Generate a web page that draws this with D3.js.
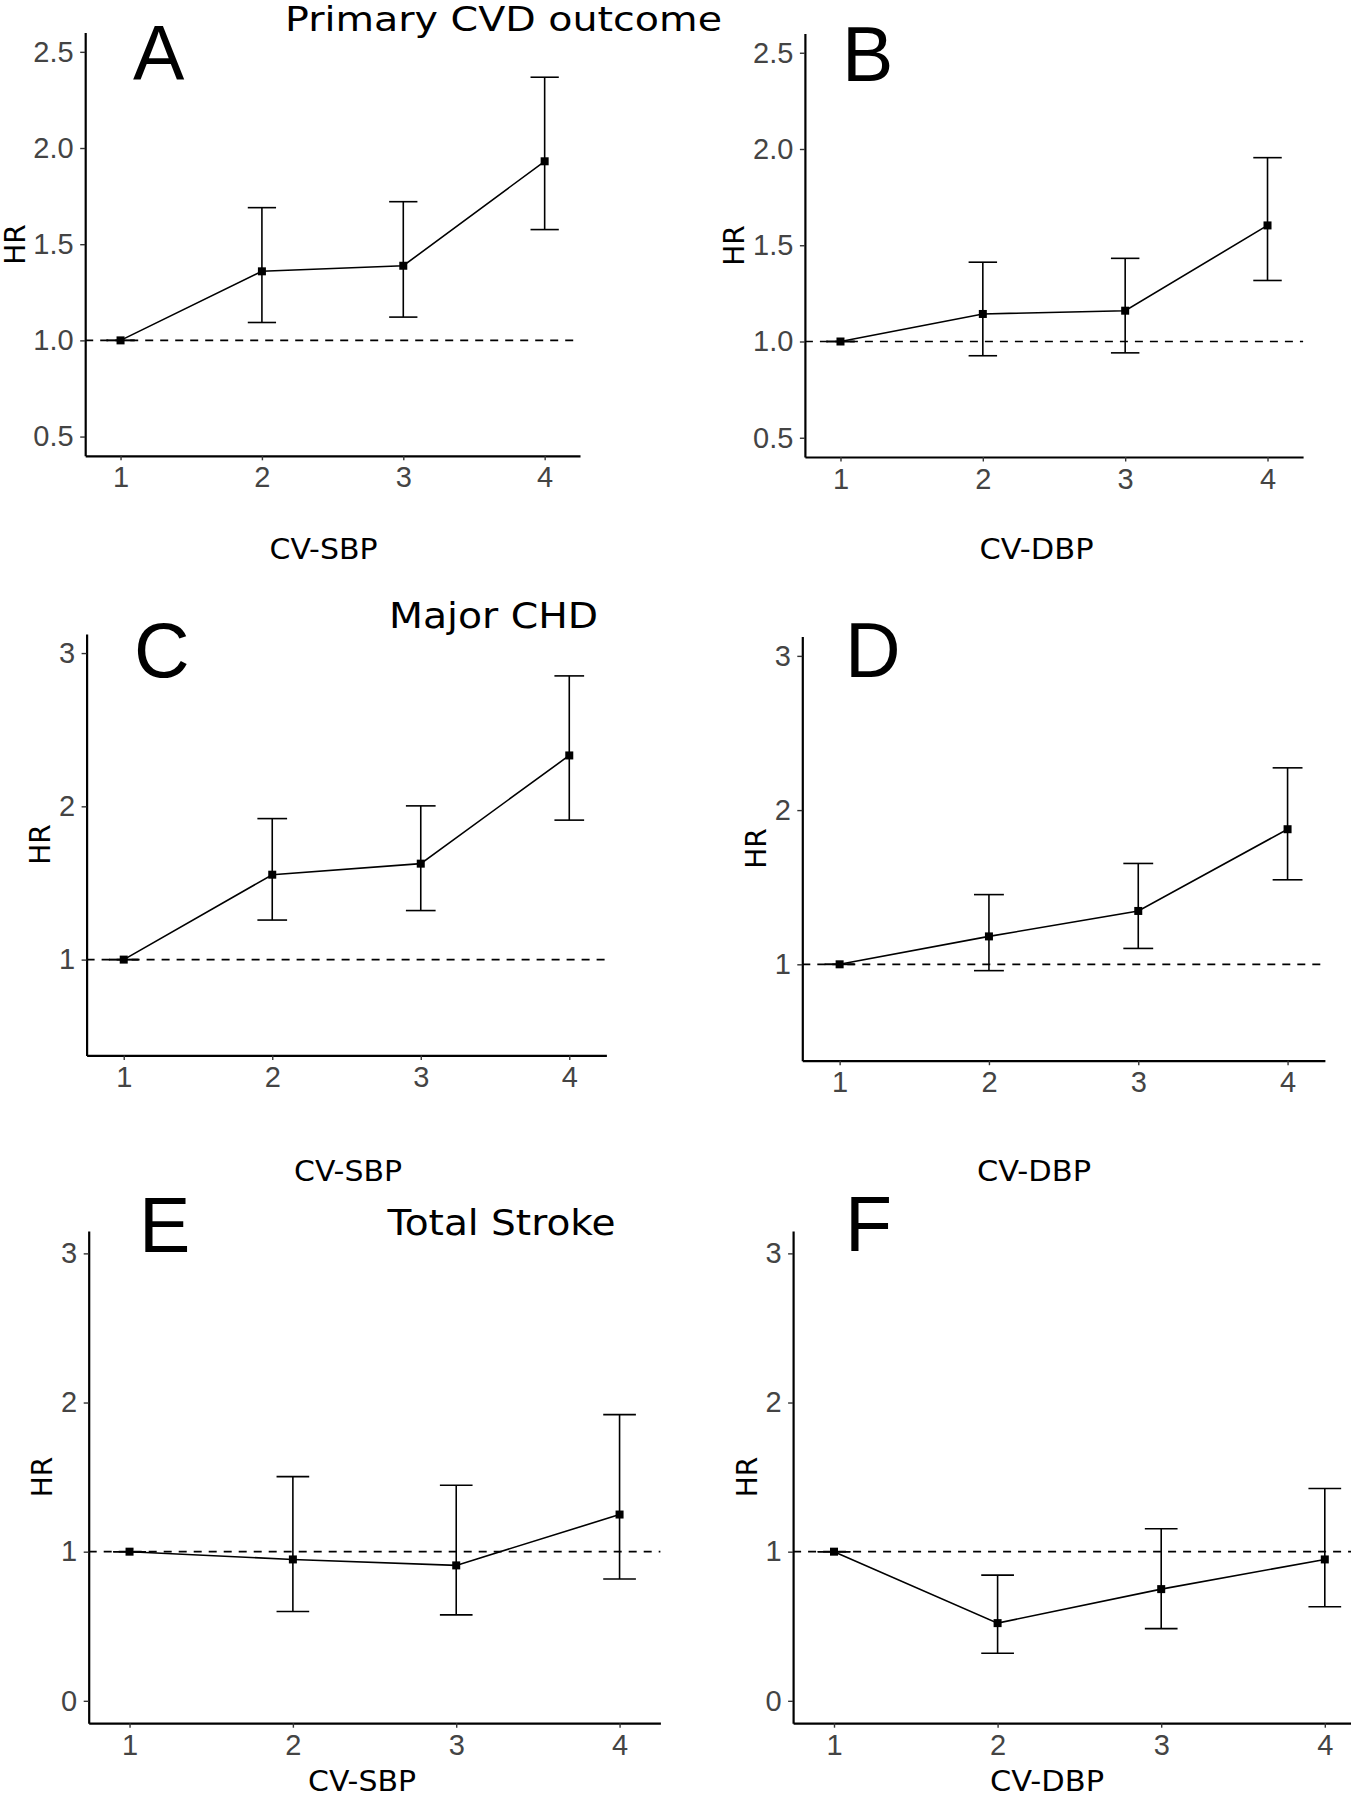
<!DOCTYPE html>
<html>
<head>
<meta charset="utf-8">
<script src="https://cdn.jsdelivr.net/npm/d3@7"></script>
<style>
  html, body { margin: 0; padding: 0; background: #fff; }
  svg { display: block; }
</style>
</head>
<body>
<svg id="chart" width="1351" height="1800"></svg>
<script>
// ---------------- DATA ----------------
const categories = [1, 2, 3, 4];

// Panel A: Primary CVD outcome vs CV-SBP quartile
const hrA = [1.00, 1.359, 1.388, 1.931];
const loA = [1.00, 1.093, 1.121, 1.576];
const hiA = [1.00, 1.690, 1.721, 2.368];
// Panel B: Primary CVD outcome vs CV-DBP quartile
const hrB = [1.00, 1.143, 1.160, 1.603];
const loB = [1.00, 0.926, 0.941, 1.317];
const hiB = [1.00, 1.412, 1.432, 1.955];
// Panel C: Major CHD vs CV-SBP
const hrC = [1.00, 1.554, 1.626, 2.332];
const loC = [1.00, 1.258, 1.320, 1.910];
const hiC = [1.00, 1.920, 2.003, 2.851];
// Panel D: Major CHD vs CV-DBP
const hrD = [1.00, 1.181, 1.346, 1.876];
const loD = [1.00, 0.959, 1.103, 1.548];
const hiD = [1.00, 1.452, 1.654, 2.274];
// Panel E: Total stroke vs CV-SBP
const hrE = [1.00, 0.948, 0.908, 1.249];
const loE = [1.00, 0.599, 0.576, 0.817];
const hiE = [1.00, 1.503, 1.445, 1.919];
// Panel F: Total stroke vs CV-DBP
const hrF = [1.00, 0.521, 0.749, 0.948];
const loF = [1.00, 0.319, 0.484, 0.631];
const hiF = [1.00, 0.843, 1.154, 1.424];

// y tick labels / limits
const ticksAB = [0.5, 1.0, 1.5, 2.0, 2.5];
const ticksCD = [1, 2, 3];
const ticksEF = [0, 1, 2, 3];
const limAB = [0.5, 2.5];
const limCD = [0.5, 3];
const limEF = [0, 3];

const panelLetters = ["A", "B", "C", "D", "E", "F"];
const titles = ["Primary CVD outcome", "Major CHD", "Total Stroke"];
const xLabels = ["CV-SBP", "CV-DBP", "CV-SBP", "CV-DBP", "CV-SBP", "CV-DBP"];
const yLabel = "HR";
const refLine = 1;

// ---------------- LAYOUT (pixels) ----------------
const layout = [
  {x0: 85.2,  x1: 580.0,  yt: 32.6,   yb: 455.8,  hr: hrA, lo: loA, hi: hiA, ticks: ticksAB, lim: limAB, fmt: ".1f",
   letter: {x: 133, y: 80}, ylab: {x: 24.5, y: 244.6}, xlab: {x: 269.5, y: 559, w: 108}},
  {x0: 804.9, x1: 1303.1, yt: 33.5,   yb: 457.0,  hr: hrB, lo: loB, hi: hiB, ticks: ticksAB, lim: limAB, fmt: ".1f",
   letter: {x: 842, y: 81}, ylab: {x: 744, y: 245.5}, xlab: {x: 979.5, y: 559, w: 114}},
  {x0: 86.6,  x1: 606.4,  yt: 633.9,  yb: 1055.4, hr: hrC, lo: loC, hi: hiC, ticks: ticksCD, lim: limCD, fmt: "d",
   letter: {x: 134, y: 677}, ylab: {x: 50, y: 844.6}, xlab: {x: 294, y: 1181, w: 108}},
  {x0: 802.3, x1: 1324.9, yt: 636.6,  yb: 1060.7, hr: hrD, lo: loD, hi: hiD, ticks: ticksCD, lim: limCD, fmt: "d",
   letter: {x: 845, y: 677}, ylab: {x: 765.5, y: 848.6}, xlab: {x: 977, y: 1181, w: 114}},
  {x0: 88.7,  x1: 660.4,  yt: 1231.0, yb: 1723.2, hr: hrE, lo: loE, hi: hiE, ticks: ticksEF, lim: limEF, fmt: "d",
   letter: {x: 139, y: 1252}, ylab: {x: 52, y: 1477}, xlab: {x: 308, y: 1791, w: 108}},
  {x0: 793.1, x1: 1365.7, yt: 1231.0, yb: 1723.2, hr: hrF, lo: loF, hi: hiF, ticks: ticksEF, lim: limEF, fmt: "d",
   letter: {x: 845, y: 1251}, ylab: {x: 757, y: 1477}, xlab: {x: 990, y: 1791, w: 114}}
];
const titleLayout = [
  {x: 285, y: 31, w: 437},
  {x: 389, y: 628, w: 209},
  {x: 387.5, y: 1235, w: 228}
];

const svg = d3.select("#chart");
svg.append("rect").attr("width", 1351).attr("height", 1800).attr("fill", "#fff");

const sansText = "'DejaVu Sans', Verdana, sans-serif";
const arial = "'Liberation Sans', Arial, sans-serif";
const capHalf = 0.1; // errorbar half width in x units

layout.forEach((p, i) => {
  const x = d3.scaleLinear().domain([0.75, 4.25]).range([p.x0, p.x1]);
  const span = p.lim[1] - p.lim[0];
  const y = d3.scaleLinear().domain([p.lim[0] - 0.05 * span, p.lim[1] + 0.05 * span]).range([p.yb, p.yt]);
  const g = svg.append("g");

  // reference dashed line
  g.append("line")
    .attr("x1", x.range()[0]).attr("x2", x.range()[1])
    .attr("y1", y(refLine)).attr("y2", y(refLine))
    .attr("stroke", "#000").attr("stroke-width", 1.7)
    .attr("stroke-dasharray", "8,7");

  const pts = categories.map((c, k) => ({c, hr: p.hr[k], lo: p.lo[k], hi: p.hi[k]}));

  // connecting line
  g.append("path")
    .datum(pts)
    .attr("fill", "none").attr("stroke", "#000").attr("stroke-width", 1.6)
    .attr("d", d3.line().x(d => x(d.c)).y(d => y(d.hr)));

  // error bars
  const eb = g.selectAll("g.eb").data(pts).join("g").attr("class", "eb")
    .attr("stroke", "#000").attr("stroke-width", 1.6);
  eb.append("line").attr("x1", d => x(d.c)).attr("x2", d => x(d.c))
    .attr("y1", d => y(d.lo)).attr("y2", d => y(d.hi));
  eb.append("line").attr("x1", d => x(d.c - capHalf)).attr("x2", d => x(d.c + capHalf))
    .attr("y1", d => y(d.lo)).attr("y2", d => y(d.lo));
  eb.append("line").attr("x1", d => x(d.c - capHalf)).attr("x2", d => x(d.c + capHalf))
    .attr("y1", d => y(d.hi)).attr("y2", d => y(d.hi));

  // square points
  const s = 8;
  g.selectAll("rect.pt").data(pts).join("rect").attr("class", "pt")
    .attr("x", d => x(d.c) - s / 2).attr("y", d => y(d.hr) - s / 2)
    .attr("width", s).attr("height", s).attr("fill", "#000");

  // axes
  const yAxis = d3.axisLeft(y).tickValues(p.ticks).tickFormat(d3.format(p.fmt))
    .tickSize(5).tickPadding(6.5).tickSizeOuter(0);
  const xAxis = d3.axisBottom(x).tickValues(categories).tickFormat(d3.format("d"))
    .tickSize(4.5).tickPadding(6.5).tickSizeOuter(0);

  const ya = g.append("g").attr("transform", `translate(${p.x0},0)`).call(yAxis);
  const xa = g.append("g").attr("transform", `translate(0,${p.yb})`).call(xAxis);
  [ya, xa].forEach(a => {
    a.select(".domain").attr("stroke", "#000").attr("stroke-width", 2.2);
    a.selectAll(".tick line").attr("stroke", "#333").attr("stroke-width", 1.4);
    a.selectAll(".tick text").attr("fill", "#444").style("font-family", arial).style("font-size", "29px");
  });

  // axis labels
  g.append("text")
    .attr("transform", `translate(${p.ylab.x},${p.ylab.y}) rotate(-90)`)
    .attr("text-anchor", "middle")
    .style("font-family", sansText).style("font-size", "28px").attr("fill", "#000")
    .text(yLabel);
  g.append("text")
    .attr("x", p.xlab.x).attr("y", p.xlab.y)
    .attr("textLength", p.xlab.w).attr("lengthAdjust", "spacingAndGlyphs")
    .style("font-family", sansText).style("font-size", "28px").attr("fill", "#000")
    .text(xLabels[i]);

  // panel letter
  g.append("text")
    .attr("x", p.letter.x).attr("y", p.letter.y)
    .style("font-family", arial).style("font-size", "77px").attr("fill", "#000")
    .text(panelLetters[i]);
});

// row titles
titles.forEach((t, i) => {
  const tl = titleLayout[i];
  svg.append("text")
    .attr("x", tl.x).attr("y", tl.y)
    .attr("textLength", tl.w).attr("lengthAdjust", "spacingAndGlyphs")
    .style("font-family", sansText).style("font-size", i === 0 ? "34px" : "36px").attr("fill", "#000")
    .text(t);
});
</script>
</body>
</html>
